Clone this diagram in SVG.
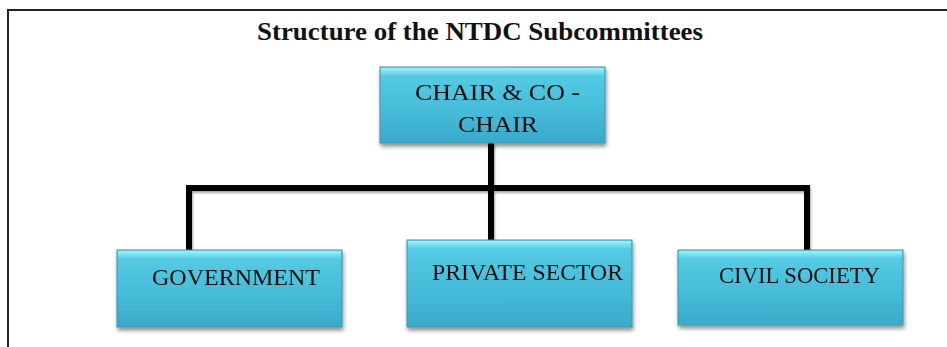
<svg xmlns="http://www.w3.org/2000/svg" width="947" height="347" viewBox="0 0 947 347">
  <defs>
    <linearGradient id="boxFill" x1="0" y1="0" x2="0" y2="1">
      <stop offset="0" stop-color="#72def0"/>
      <stop offset="0.12" stop-color="#54cae3"/>
      <stop offset="0.6" stop-color="#45bbd8"/>
      <stop offset="1" stop-color="#3aa9c9"/>
    </linearGradient>
    <linearGradient id="bevelTop" x1="0" y1="0" x2="0" y2="1">
      <stop offset="0" stop-color="#a8f2fb" stop-opacity="0.9"/>
      <stop offset="1" stop-color="#7fe6f6" stop-opacity="0"/>
    </linearGradient>
    <filter id="shadow" x="-10%" y="-10%" width="125%" height="130%">
      <feGaussianBlur in="SourceAlpha" stdDeviation="2"/>
      <feOffset dx="1" dy="3" result="b"/>
      <feComponentTransfer><feFuncA type="linear" slope="0.45"/></feComponentTransfer>
      <feMerge><feMergeNode/><feMergeNode in="SourceGraphic"/></feMerge>
    </filter>
    <filter id="lineShadow" x="-5%" y="-20%" width="110%" height="150%">
      <feGaussianBlur in="SourceAlpha" stdDeviation="1"/>
      <feOffset dx="1" dy="1.5"/>
      <feComponentTransfer><feFuncA type="linear" slope="0.35"/></feComponentTransfer>
      <feMerge><feMergeNode/><feMergeNode in="SourceGraphic"/></feMerge>
    </filter>
  </defs>
  <style>
    .frame { stroke: #222; stroke-width: 2; fill: none; }
    .box { fill: url(#boxFill); stroke: #3a97ae; stroke-width: 1; }
    .bevel { fill: url(#bevelTop); }
    .label { font-family: "Liberation Serif", "Times New Roman", serif; font-size: 24px; fill: #111; }
    .title { font-family: "Liberation Serif", "Times New Roman", serif; font-size: 26px; font-weight: bold; fill: #111; }
    .conn { stroke: #000; stroke-width: 6; fill: none; stroke-linejoin: miter; }
  </style>

  <rect width="947" height="347" fill="#fff"/>

  <!-- page frame: top and left rules -->
  <path class="frame" d="M8 347 V10 H947"/>

  <text class="title" x="257" y="40" textLength="446" lengthAdjust="spacingAndGlyphs">Structure of the NTDC Subcommittees</text>

  <!-- connectors -->
  <g id="connectors" filter="url(#lineShadow)">
    <path class="conn" d="M491 143 V188"/>
    <path class="conn" d="M189 250 V188 H807 V250"/>
    <path class="conn" d="M491 188 V240"/>
  </g>

  <g id="chair" filter="url(#shadow)">
    <rect class="box" x="380" y="67" width="225" height="76"/>
    <rect class="bevel" x="381" y="68" width="223" height="8"/>
    <text class="label" x="415" y="100" textLength="165" lengthAdjust="spacingAndGlyphs">CHAIR &amp; CO -</text>
    <text class="label" x="458" y="132" textLength="80" lengthAdjust="spacingAndGlyphs">CHAIR</text>
  </g>

  <g id="government" filter="url(#shadow)">
    <rect class="box" x="117" y="250" width="225" height="77"/>
    <rect class="bevel" x="118" y="251" width="223" height="8"/>
    <text class="label" x="152" y="285" textLength="168" lengthAdjust="spacingAndGlyphs">GOVERNMENT</text>
  </g>

  <g id="private-sector" filter="url(#shadow)">
    <rect class="box" x="407" y="240" width="225" height="87"/>
    <rect class="bevel" x="408" y="241" width="223" height="8"/>
    <text class="label" x="432" y="280" textLength="191" lengthAdjust="spacingAndGlyphs">PRIVATE SECTOR</text>
  </g>

  <g id="civil-society" filter="url(#shadow)">
    <rect class="box" x="678" y="250" width="225" height="75"/>
    <rect class="bevel" x="679" y="251" width="223" height="8"/>
    <text class="label" x="719" y="283" textLength="161" lengthAdjust="spacingAndGlyphs">CIVIL SOCIETY</text>
  </g>
</svg>
